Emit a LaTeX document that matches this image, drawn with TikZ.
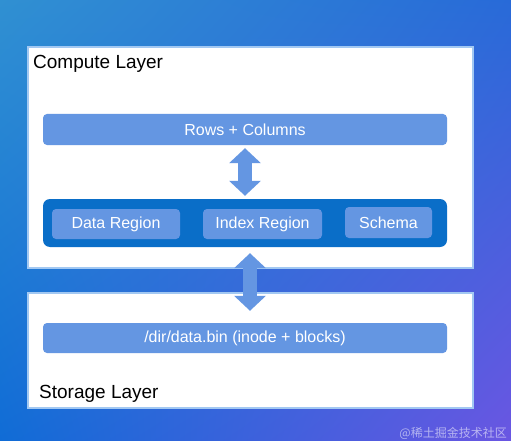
\documentclass[tikz,border=0pt]{standalone}
\usepackage{fontspec}
\setmainfont{Liberation Sans}
\newfontfamily\cjkfont{Noto Sans CJK SC}
\usepackage{xcolor}
\usetikzlibrary{arrows.meta,positioning,calc,shadings}
\definecolor{barblue}{HTML}{6496E2}
\definecolor{busblue}{HTML}{0A6EC8}
\definecolor{edgeblue}{HTML}{A2C8F2}
\definecolor{bgtl}{RGB}{48,144,210}
\definecolor{bgtr}{RGB}{40,106,216}
\definecolor{bgbl}{RGB}{16,108,214}
\definecolor{bgbr}{RGB}{106,86,226}
\newcommand{\labfont}{\fontsize{19}{23}\selectfont}
\newcommand{\barfont}{\fontsize{16}{19}\selectfont}

\begin{document}
\begin{tikzpicture}[x=1pt, y=-1pt,
    layer/.style={draw=edgeblue, line width=1.6pt, fill=white, inner sep=0pt},
    bar/.style={fill=barblue, rounded corners=4pt, text=white, font=\barfont,
      inner sep=0pt, minimum height=31pt},
    bus/.style={fill=busblue, rounded corners=7pt, inner sep=0pt},
    updown/.style={line width=14pt, draw=barblue,
      {Triangle[width=31pt,length=15pt]}-{Triangle[width=31pt,length=15pt]}}]
  % background
  \shade[upper left=bgtl, upper right=bgtr, lower left=bgbl, lower right=bgbr]
    (0,0) rectangle (511,441);
  % layers
  \node[layer, minimum width=445pt, minimum height=221pt] (compute) at (250.5,157.5) {};
  \node[layer, minimum width=445pt, minimum height=115pt] (storage) at (250.5,350.5) {};
  \node[anchor=base west, font=\labfont, inner sep=0pt] (computelbl) at (33,69) {Compute Layer};
  \node[anchor=base west, font=\labfont, inner sep=0pt] (storagelbl) at (39,398) {Storage Layer};
  % compute side
  \node[bar, minimum width=404pt] (rows) at (245,129.5) {Rows + Columns};
  \node[bus, minimum width=404pt, minimum height=48pt] (regions) at (245,223) {};
  \node[bar, minimum width=128pt, minimum height=30pt] (data) at (116,224) {Data Region};
  \node[bar, minimum width=119pt, minimum height=30pt] (index) at (262.5,224) {Index Region};
  \node[bar, minimum width=87pt] (schema) at (388.5,222.5) {Schema};
  % storage side
  \node[bar, minimum width=404pt, minimum height=30pt] (file) at (245,338) {/dir/data.bin (inode + blocks)};
  % arrows
  \draw[updown, shorten <=3pt, shorten >=3pt] (rows.south) -- (regions.north);
  \draw[updown, shorten <=6pt, shorten >=12pt]
    ([xshift=5pt]regions.south) -- ([xshift=5pt]file.north);
  % watermark
  \node[anchor=base east, font=\cjkfont\fontsize{12}{14}\selectfont,
    text=white, text opacity=0.55, inner sep=0pt] (mark) at (507,437) {@稀土掘金技术社区};
\end{tikzpicture}
\end{document}
